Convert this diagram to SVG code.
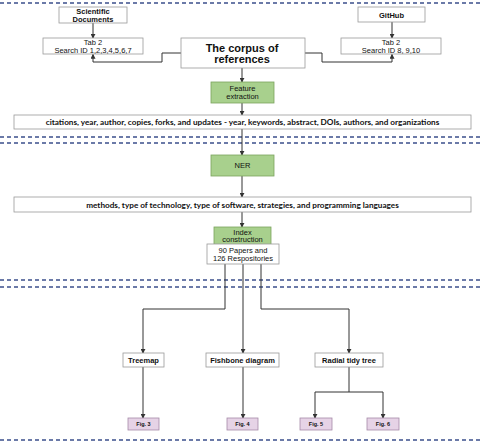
<svg xmlns="http://www.w3.org/2000/svg" width="483" height="442" viewBox="0 0 483 442">
<style>
.box{fill:#fff;stroke:#9a9a9a;stroke-width:0.8}
.green{fill:#a8d08d;stroke:#7aa35e;stroke-width:0.8}
.pink{fill:#e6d3e6;stroke:#a58aa8;stroke-width:0.8}
.dash{stroke:#3b4f8c;stroke-width:1.3;stroke-dasharray:4,3;fill:none}
.ln{stroke:#333;stroke-width:1;fill:none}
text{font-family:"Liberation Sans",Arial,sans-serif;fill:#111;text-anchor:middle}
.b{font-weight:bold}
.s{font-size:7.5px}
.t{font-family:Lato,"Liberation Sans",sans-serif;font-size:8.2px;font-weight:bold}
</style>
<defs>
<marker id="ah" viewBox="0 0 6 6" refX="5" refY="3" markerWidth="5" markerHeight="5" orient="auto"><path d="M0,0 L6,3 L0,6 z" fill="#333"/></marker>
</defs>
<line class="dash" x1="0" y1="3" x2="483" y2="3"/>
<line class="dash" x1="0" y1="137" x2="483" y2="137"/>
<line class="dash" x1="0" y1="143" x2="483" y2="143"/>
<line class="dash" x1="0" y1="280" x2="483" y2="280"/>
<line class="dash" x1="0" y1="287" x2="483" y2="287"/>
<line class="dash" x1="0" y1="440" x2="483" y2="440"/>
<g id="connectors">
<path class="ln" d="M93,23 V38" marker-end="url(#ah)"/>
<path class="ln" d="M392,22 V38" marker-end="url(#ah)"/>
<path class="ln" d="M181,53 H162 V62 H93 V54.5" marker-end="url(#ah)"/>
<path class="ln" d="M305,53 H322 V62 H392 V54.5" marker-end="url(#ah)"/>
<path class="ln" d="M242,68 V82" marker-end="url(#ah)"/>
<path class="ln" d="M242,103 V115" marker-end="url(#ah)"/>
<path class="ln" d="M242,129 V155" marker-end="url(#ah)"/>
<path class="ln" d="M242,176 V197" marker-end="url(#ah)"/>
<path class="ln" d="M242,212 V227" marker-end="url(#ah)"/>
<path class="ln" d="M225,264 V309 H143 V353" marker-end="url(#ah)"/>
<path class="ln" d="M243,264 V353" marker-end="url(#ah)"/>
<path class="ln" d="M261,264 V309 H349 V353" marker-end="url(#ah)"/>
<path class="ln" d="M143,367 V418" marker-end="url(#ah)"/>
<path class="ln" d="M243,367 V418" marker-end="url(#ah)"/>
<path class="ln" d="M349,367 V392"/>
<path class="ln" d="M315,392 H383"/>
<path class="ln" d="M315,392 V418" marker-end="url(#ah)"/>
<path class="ln" d="M383,392 V418" marker-end="url(#ah)"/>
</g>
<g id="sci"><rect class="box" x="59" y="7" width="68" height="16"/><text class="b s" x="93" y="14">Scientific</text><text class="b s" x="93" y="21.5">Documents</text></g>
<g id="tab2l"><rect class="box" x="43" y="38" width="100" height="16"/><text class="s" x="93" y="45">Tab 2</text><text class="s" x="93" y="52.5">Search ID 1,2,3,4,5,6,7</text></g>
<g id="github"><rect class="box" x="358" y="7" width="67" height="15"/><text class="b s" x="391.5" y="17.5">GitHub</text></g>
<g id="tab2r"><rect class="box" x="341" y="38" width="100" height="16"/><text class="s" x="391" y="45">Tab 2</text><text class="s" x="391" y="52.5">Search ID 8, 9,10</text></g>
<g id="corpus"><rect class="box" x="181" y="38" width="124" height="30"/><text class="b" font-size="11" x="242" y="51.5">The corpus of</text><text class="b" font-size="11" x="242" y="62.5">references</text></g>
<g id="feature"><rect class="green" x="211" y="82" width="63" height="21"/><text class="s" x="242.5" y="91">Feature</text><text class="s" x="242.5" y="99">extraction</text></g>
<g id="citations"><rect class="box" x="14" y="115" width="457" height="14"/><text class="t" x="242.5" y="125">citations, year, author, copies, forks, and updates - year, keywords, abstract, DOIs, authors, and organizations</text></g>
<g id="ner"><rect class="green" x="211" y="155" width="63" height="21"/><text class="s" x="242.5" y="168">NER</text></g>
<g id="methods"><rect class="box" x="14" y="197" width="457" height="15"/><text class="t" x="242.5" y="207.5">methods, type of technology, type of software, strategies, and programming languages</text></g>
<g id="index"><rect class="green" x="214" y="227" width="57" height="20"/><text class="s" x="242.5" y="234.5">Index</text><text class="s" x="242.5" y="242">construction</text></g>
<g id="papers"><rect class="box" x="207" y="244" width="72" height="20"/><text class="s" x="243" y="252.5">90 Papers and</text><text class="s" x="243" y="260.5">126 Respositories</text></g>
<g id="treemap"><rect class="box" x="123" y="353" width="41" height="14"/><text class="b s" x="143.5" y="363">Treemap</text></g>
<g id="fishbone"><rect class="box" x="206" y="353" width="73" height="14"/><text class="b s" x="242.5" y="363">Fishbone diagram</text></g>
<g id="radial"><rect class="box" x="315" y="353" width="68" height="14"/><text class="b s" x="349" y="363">Radial tidy tree</text></g>
<g id="fig3"><rect class="pink" x="128" y="418" width="31" height="12"/><text class="b" font-size="5.5" x="143.5" y="426">Fig. 3</text></g>
<g id="fig4"><rect class="pink" x="227" y="418" width="31" height="12"/><text class="b" font-size="5.5" x="242.5" y="426">Fig. 4</text></g>
<g id="fig5"><rect class="pink" x="300" y="418" width="32" height="12"/><text class="b" font-size="5.5" x="316" y="426">Fig. 5</text></g>
<g id="fig6"><rect class="pink" x="367" y="418" width="32" height="12"/><text class="b" font-size="5.5" x="383" y="426">Fig. 6</text></g>
</svg>
